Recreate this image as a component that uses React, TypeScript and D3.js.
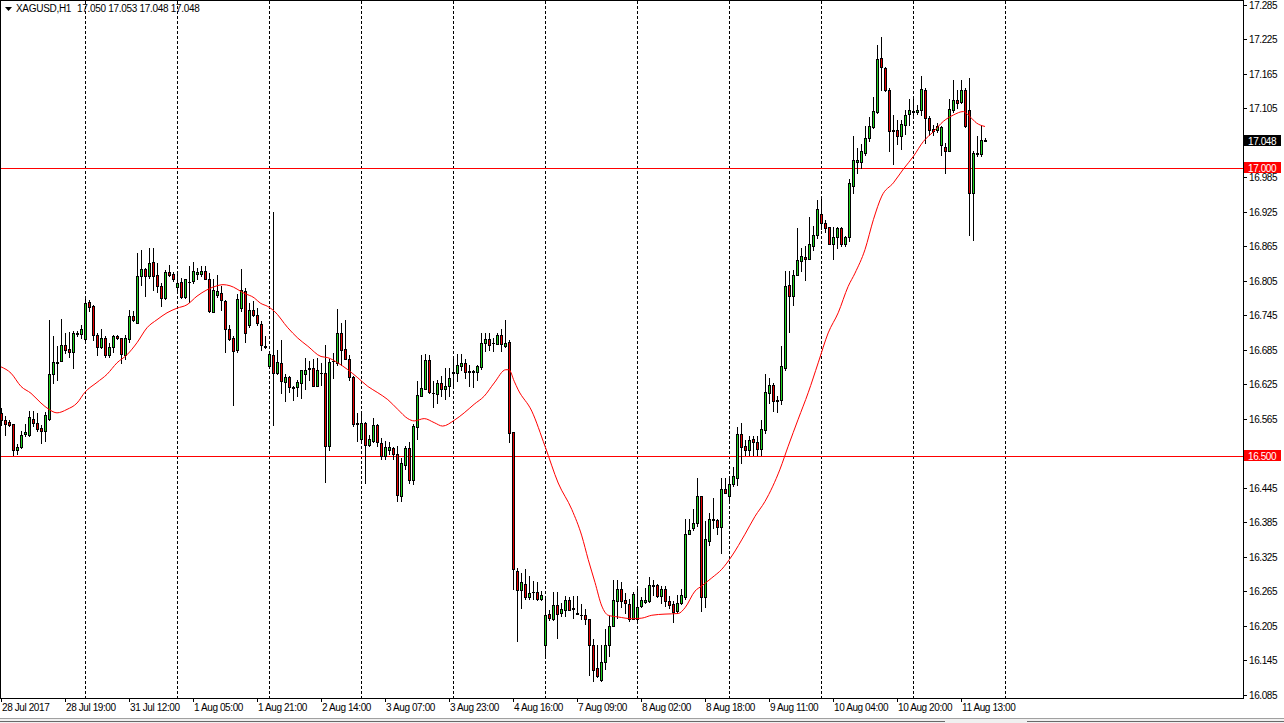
import React from 'react';
import * as d3 from 'd3';

const W = 1284;
const H = 723;
const PLOT_RIGHT = 1243;
const PLOT_BOTTOM = 698;

const opens = [
  16.574, 16.563, 16.559, 16.555, 16.510, 16.516, 16.538, 16.536, 16.564, 16.557,
  16.548, 16.544, 16.564, 16.643, 16.662, 16.665, 16.693, 16.686, 16.681, 16.713,
  16.712, 16.703, 16.768, 16.761, 16.710, 16.690, 16.705, 16.675, 16.690, 16.709,
  16.705, 16.676, 16.703, 16.744, 16.732, 16.813, 16.825, 16.813, 16.837, 16.814,
  16.796, 16.775, 16.820, 16.816, 16.794, 16.802, 16.776, 16.803, 16.804, 16.816,
  16.817, 16.822, 16.808, 16.750, 16.780, 16.783, 16.769, 16.721, 16.706, 16.684,
  16.757, 16.787, 16.727, 16.754, 16.746, 16.730, 16.692, 16.656, 16.676, 16.645,
  16.662, 16.628, 16.638, 16.620, 16.620, 16.627, 16.643, 16.652, 16.653, 16.622,
  16.645, 16.645, 16.517, 16.665, 16.661, 16.714, 16.686, 16.669, 16.638, 16.558,
  16.529, 16.558, 16.519, 16.526, 16.554, 16.523, 16.500, 16.510, 16.514, 16.503,
  16.430, 16.484, 16.514, 16.459, 16.550, 16.605, 16.617, 16.667, 16.610, 16.608,
  16.627, 16.617, 16.621, 16.645, 16.645, 16.656, 16.662, 16.647, 16.646, 16.646,
  16.654, 16.696, 16.704, 16.696, 16.695, 16.711, 16.691, 16.698, 16.542, 16.300,
  16.267, 16.278, 16.254, 16.264, 16.264, 16.252, 16.172, 16.226, 16.216, 16.241,
  16.227, 16.233, 16.249, 16.235, 16.227, 16.224, 16.224, 16.216, 16.171, 16.131,
  16.111, 16.141, 16.172, 16.205, 16.248, 16.269, 16.249, 16.242, 16.217, 16.217,
  16.239, 16.246, 16.248, 16.276, 16.275, 16.256, 16.268, 16.247, 16.242, 16.230,
  16.245, 16.255, 16.365, 16.375, 16.383, 16.431, 16.255, 16.352, 16.389, 16.388,
  16.377, 16.443, 16.430, 16.452, 16.462, 16.538, 16.518, 16.510, 16.529, 16.525,
  16.512, 16.545, 16.610, 16.623, 16.596, 16.598, 16.653, 16.798, 16.778, 16.815,
  16.839, 16.846, 16.843, 16.866, 16.884, 16.921, 16.905, 16.898, 16.869, 16.880,
  16.896, 16.869, 16.881, 16.970, 17.012, 17.012, 17.027, 17.053, 17.072, 17.099,
  17.192, 17.174, 17.137, 17.067, 17.067, 17.056, 17.076, 17.095, 17.098, 17.099,
  17.102, 17.137, 17.088, 17.068, 17.067, 17.040, 17.038, 17.031, 17.102, 17.119,
  17.115, 17.137, 17.101, 16.958, 17.026, 17.026, 17.050,
];

const highs = [
  16.584, 16.569, 16.563, 16.556, 16.520, 16.543, 16.556, 16.578, 16.578, 16.575,
  16.553, 16.576, 16.737, 16.708, 16.692, 16.739, 16.714, 16.716, 16.717, 16.717,
  16.728, 16.773, 16.771, 16.762, 16.714, 16.721, 16.708, 16.697, 16.710, 16.711,
  16.706, 16.711, 16.754, 16.752, 16.853, 16.859, 16.827, 16.862, 16.862, 16.835,
  16.801, 16.824, 16.833, 16.820, 16.821, 16.809, 16.808, 16.830, 16.837, 16.827,
  16.830, 16.831, 16.818, 16.807, 16.815, 16.795, 16.772, 16.728, 16.708, 16.782,
  16.826, 16.792, 16.766, 16.769, 16.757, 16.734, 16.709, 16.682, 16.925, 16.684,
  16.701, 16.642, 16.639, 16.621, 16.633, 16.650, 16.671, 16.665, 16.669, 16.671,
  16.662, 16.693, 16.669, 16.679, 16.755, 16.731, 16.736, 16.675, 16.639, 16.575,
  16.575, 16.559, 16.537, 16.566, 16.555, 16.532, 16.526, 16.524, 16.516, 16.517,
  16.497, 16.517, 16.524, 16.555, 16.630, 16.676, 16.677, 16.676, 16.630, 16.633,
  16.639, 16.653, 16.653, 16.673, 16.678, 16.678, 16.668, 16.659, 16.650, 16.659,
  16.714, 16.714, 16.714, 16.705, 16.714, 16.721, 16.736, 16.702, 16.542, 16.306,
  16.297, 16.303, 16.292, 16.282, 16.280, 16.265, 16.251, 16.233, 16.263, 16.263,
  16.244, 16.256, 16.254, 16.256, 16.256, 16.242, 16.234, 16.216, 16.181, 16.171,
  16.172, 16.199, 16.222, 16.285, 16.285, 16.280, 16.262, 16.251, 16.263, 16.268,
  16.254, 16.271, 16.290, 16.285, 16.277, 16.274, 16.274, 16.256, 16.248, 16.258,
  16.268, 16.390, 16.391, 16.408, 16.462, 16.431, 16.387, 16.401, 16.427, 16.391,
  16.462, 16.462, 16.460, 16.481, 16.551, 16.558, 16.527, 16.535, 16.534, 16.534,
  16.562, 16.643, 16.636, 16.627, 16.604, 16.691, 16.821, 16.821, 16.824, 16.896,
  16.862, 16.865, 16.916, 16.900, 16.946, 16.949, 16.911, 16.899, 16.899, 16.899,
  16.898, 16.883, 16.982, 17.057, 17.035, 17.043, 17.074, 17.090, 17.124, 17.215,
  17.228, 17.177, 17.140, 17.093, 17.085, 17.085, 17.101, 17.121, 17.122, 17.111,
  17.161, 17.140, 17.091, 17.076, 17.079, 17.073, 17.044, 17.121, 17.154, 17.137,
  17.154, 17.140, 17.157, 17.030, 17.056, 17.076, 17.053,
];

const lows = [
  16.554, 16.537, 16.552, 16.501, 16.503, 16.514, 16.534, 16.534, 16.552, 16.543,
  16.522, 16.526, 16.563, 16.627, 16.633, 16.665, 16.679, 16.673, 16.653, 16.709,
  16.705, 16.702, 16.752, 16.702, 16.675, 16.688, 16.673, 16.673, 16.681, 16.703,
  16.661, 16.668, 16.699, 16.734, 16.731, 16.798, 16.778, 16.809, 16.789, 16.786,
  16.760, 16.773, 16.813, 16.804, 16.789, 16.775, 16.775, 16.767, 16.801, 16.808,
  16.813, 16.807, 16.750, 16.750, 16.776, 16.754, 16.680, 16.702, 16.588, 16.680,
  16.752, 16.699, 16.725, 16.743, 16.728, 16.684, 16.688, 16.655, 16.554, 16.643,
  16.610, 16.595, 16.611, 16.598, 16.604, 16.600, 16.616, 16.633, 16.621, 16.621,
  16.624, 16.455, 16.510, 16.635, 16.659, 16.659, 16.668, 16.633, 16.552, 16.526,
  16.528, 16.453, 16.517, 16.524, 16.517, 16.495, 16.495, 16.503, 16.495, 16.422,
  16.422, 16.477, 16.453, 16.452, 16.529, 16.604, 16.616, 16.610, 16.585, 16.592,
  16.604, 16.599, 16.604, 16.624, 16.630, 16.650, 16.636, 16.621, 16.620, 16.633,
  16.652, 16.682, 16.685, 16.682, 16.694, 16.682, 16.690, 16.524, 16.268, 16.178,
  16.236, 16.251, 16.251, 16.251, 16.249, 16.249, 16.152, 16.215, 16.214, 16.184,
  16.222, 16.222, 16.232, 16.219, 16.225, 16.216, 16.207, 16.119, 16.109, 16.116,
  16.109, 16.129, 16.152, 16.204, 16.219, 16.238, 16.227, 16.213, 16.216, 16.213,
  16.238, 16.244, 16.246, 16.258, 16.254, 16.244, 16.239, 16.236, 16.211, 16.227,
  16.242, 16.252, 16.364, 16.372, 16.379, 16.230, 16.238, 16.346, 16.375, 16.364,
  16.332, 16.435, 16.423, 16.448, 16.449, 16.488, 16.501, 16.501, 16.501, 16.501,
  16.501, 16.540, 16.593, 16.578, 16.576, 16.590, 16.650, 16.715, 16.762, 16.814,
  16.821, 16.806, 16.843, 16.858, 16.879, 16.895, 16.889, 16.868, 16.843, 16.862,
  16.865, 16.865, 16.873, 16.958, 16.993, 17.001, 17.024, 17.047, 17.070, 17.096,
  17.136, 17.134, 17.030, 17.007, 17.043, 17.033, 17.060, 17.076, 17.093, 17.095,
  17.093, 17.045, 17.059, 17.059, 17.064, 17.024, 16.993, 17.030, 17.099, 17.105,
  17.114, 17.072, 16.885, 16.875, 17.021, 17.022, 17.048,
];

const closes = [
  16.563, 16.556, 16.554, 16.510, 16.515, 16.537, 16.541, 16.568, 16.557, 16.547,
  16.544, 16.571, 16.643, 16.663, 16.664, 16.693, 16.685, 16.680, 16.714, 16.712,
  16.721, 16.766, 16.759, 16.711, 16.690, 16.705, 16.675, 16.690, 16.708, 16.705,
  16.677, 16.705, 16.743, 16.736, 16.813, 16.825, 16.813, 16.835, 16.813, 16.796,
  16.775, 16.820, 16.814, 16.807, 16.801, 16.776, 16.807, 16.802, 16.822, 16.820,
  16.822, 16.808, 16.752, 16.789, 16.787, 16.772, 16.720, 16.703, 16.682, 16.773,
  16.789, 16.714, 16.754, 16.746, 16.732, 16.693, 16.690, 16.678, 16.645, 16.664,
  16.630, 16.638, 16.620, 16.619, 16.628, 16.649, 16.650, 16.653, 16.621, 16.650,
  16.644, 16.517, 16.664, 16.666, 16.714, 16.685, 16.669, 16.638, 16.556, 16.556,
  16.558, 16.519, 16.529, 16.554, 16.525, 16.500, 16.516, 16.515, 16.503, 16.432,
  16.488, 16.514, 16.459, 16.552, 16.606, 16.618, 16.667, 16.611, 16.609, 16.627,
  16.617, 16.621, 16.636, 16.646, 16.659, 16.661, 16.646, 16.646, 16.647, 16.656,
  16.697, 16.704, 16.693, 16.697, 16.711, 16.695, 16.697, 16.540, 16.303, 16.267,
  16.280, 16.255, 16.262, 16.263, 16.251, 16.259, 16.224, 16.219, 16.241, 16.226,
  16.234, 16.249, 16.233, 16.234, 16.225, 16.223, 16.216, 16.171, 16.128, 16.117,
  16.141, 16.171, 16.205, 16.249, 16.269, 16.248, 16.245, 16.217, 16.260, 16.238,
  16.249, 16.249, 16.276, 16.274, 16.256, 16.269, 16.248, 16.240, 16.229, 16.245,
  16.258, 16.365, 16.372, 16.383, 16.431, 16.255, 16.355, 16.391, 16.390, 16.377,
  16.443, 16.435, 16.452, 16.465, 16.538, 16.516, 16.510, 16.527, 16.524, 16.512,
  16.547, 16.612, 16.623, 16.595, 16.598, 16.656, 16.796, 16.779, 16.815, 16.841,
  16.847, 16.843, 16.868, 16.885, 16.929, 16.905, 16.897, 16.869, 16.881, 16.896,
  16.869, 16.881, 16.974, 17.015, 17.014, 17.030, 17.053, 17.073, 17.100, 17.190,
  17.177, 17.136, 17.066, 17.066, 17.056, 17.077, 17.093, 17.101, 17.100, 17.102,
  17.138, 17.088, 17.067, 17.066, 17.074, 17.072, 17.031, 17.103, 17.119, 17.114,
  17.136, 17.073, 16.958, 17.027, 17.027, 17.050, 17.048,
];

// Moving average at bar positions
const maBars = [
  0, 2.5, 5, 7.5, 10, 12, 14, 16.5, 19, 21, 24, 26.5, 29, 31.5, 34, 36.5, 39, 41.5, 44, 46.5,
  49, 51.5, 54, 55.5, 57.25, 60.8, 63.3, 64.8, 66.7, 68.3, 71.7, 74.2, 76.7, 80, 81.7, 84.2,
  86.7, 89.2, 91.7, 94.2, 96.7, 99.2, 101.7, 103.3, 105.8, 108.3, 110.4, 113.3, 115.8, 118.3,
  120.8, 123.3, 126.2, 127, 128.3, 129.3, 132.7, 136, 139.3, 142.7, 145.2, 146.8, 148.5, 150.2,
  151.8, 154.3, 157.7, 160.2, 162.7, 166, 169.3, 171, 173.5, 175.2, 177.7, 180.2, 182.7, 186,
  188.5, 191, 194.75, 196.8, 199.3, 201.8, 204.3, 206.8, 209.3, 211.8, 213.5, 216, 218.1, 220.2,
  223.1, 225.6, 228.1, 230.6, 233.1, 235.6, 238.1, 240.6, 242.25, 243.9, 246,
];
const maValues = [
  16.655, 16.644, 16.621, 16.609, 16.592, 16.581, 16.575, 16.581, 16.592, 16.611, 16.628, 16.642,
  16.662, 16.676, 16.697, 16.723, 16.737, 16.749, 16.757, 16.763,
  16.778, 16.789, 16.796, 16.798, 16.796, 16.783, 16.775, 16.766, 16.760, 16.752, 16.723, 16.705,
  16.691, 16.673, 16.671, 16.662,
  16.650, 16.636, 16.621, 16.610, 16.598, 16.581, 16.565, 16.561, 16.565, 16.558, 16.552, 16.562,
  16.575, 16.590,
  16.604, 16.627, 16.650, 16.650, 16.630, 16.615, 16.578, 16.517, 16.453, 16.407, 16.361, 16.320,
  16.280, 16.239,
  16.223, 16.220, 16.217, 16.218, 16.223, 16.225, 16.226, 16.236, 16.265, 16.274, 16.288, 16.303,
  16.326, 16.364,
  16.395, 16.421, 16.477, 16.517, 16.564, 16.610, 16.662, 16.714, 16.749, 16.795, 16.818, 16.859,
  16.911, 16.952,
  16.975, 16.999, 17.021, 17.047, 17.064, 17.082, 17.093, 17.099, 17.090, 17.079, 17.073,
];

const priceTickLabels = [
  '17.285', '17.225', '17.165', '17.105', '17.045', '16.985', '16.925', '16.865', '16.805', '16.745',
  '16.685', '16.625', '16.565', '16.505', '16.445', '16.385', '16.325', '16.265', '16.205', '16.145', '16.085',
];
const hiddenTickLabels = ['17.045', '16.505'];

const timeLabels = [
  '28 Jul 2017', '28 Jul 19:00', '31 Jul 12:00', '1 Aug 05:00', '1 Aug 21:00', '2 Aug 14:00',
  '3 Aug 07:00', '3 Aug 23:00', '4 Aug 16:00', '7 Aug 09:00', '8 Aug 02:00', '8 Aug 18:00',
  '9 Aug 11:00', '10 Aug 04:00', '10 Aug 20:00', '11 Aug 13:00',
];
const timeLabelBars = [0, 16, 32, 48, 64, 80, 96, 112, 128, 144, 160, 176, 192, 208, 224, 240];
const gridBars = [21, 44, 67, 90, 113, 136, 159, 182, 205, 228, 251];
const levelLines = [17.0, 16.5];
const levelLabels = ['17.000', '16.500'];
const lastPrice = 17.048;
const lastLabel = '17.048';
const symbolLabel = 'XAGUSD,H1';
const ohlcLabel = '17.050 17.053 17.048 17.048';

const FONT = "'Liberation Sans', Arial, sans-serif";
const BULL = '#1fd31f';
const BEAR = '#e60000';

export default function App() {
  const x = d3.scaleLinear().domain([0, 246]).range([1, 985]);
  const y = d3.scaleLinear().domain([16.085, 17.285]).range([694.6, 4.6]);

  const maLine = d3
    .line<number>()
    .x((_, i) => x(maBars[i]))
    .y((v) => y(v))
    .curve(d3.curveMonotoneX);

  const candles = opens.map((o, i) => {
    const h = highs[i];
    const l = lows[i];
    const c = closes[i];
    const cx = Math.round(x(i));
    const yh = Math.round(y(h));
    const yl = Math.round(y(l));
    const top = Math.round(y(Math.max(o, c)));
    const bot = Math.round(y(Math.min(o, c)));
    const color = c > o ? BULL : BEAR;
    return (
      <g key={i}>
        <rect x={cx} y={yh} width={1} height={yl - yh + 1} fill="#000" />
        {bot - top < 2 ? (
          <rect x={cx - 1} y={top} width={3} height={Math.max(1, bot - top + 1)} fill="#000" />
        ) : (
          <>
            <rect x={cx - 1} y={top} width={3} height={bot - top + 1} fill="#000" />
            <rect x={cx} y={top + 1} width={1} height={bot - top - 1} fill={color} />
          </>
        )}
      </g>
    );
  });

  return (
    <svg
      width={W}
      height={H}
      style={{ position: 'absolute', left: 0, top: 0, background: '#fff' }}
      fontFamily={FONT}
    >
      <rect x={0} y={0} width={W} height={H} fill="#fff" />

      {/* vertical dashed grid */}
      {gridBars.map((b) => (
        <line
          key={b}
          x1={Math.round(x(b)) + 0.5}
          x2={Math.round(x(b)) + 0.5}
          y1={1}
          y2={PLOT_BOTTOM}
          stroke="#000"
          strokeWidth={1}
          strokeDasharray="3,2"
        />
      ))}

      {/* level lines */}
      {levelLines.map((v) => (
        <rect key={v} x={0} y={Math.round(y(v))} width={PLOT_RIGHT} height={1} fill="#ff0000" />
      ))}

      {/* candles */}
      <g shapeRendering="crispEdges">{candles}</g>

      {/* moving average */}
      <path d={maLine(maValues) || ''} fill="none" stroke="#ff0000" strokeWidth={1} />

      {/* frame */}
      <g shapeRendering="crispEdges">
        <rect x={0} y={0} width={PLOT_RIGHT + 1} height={1} fill="#000" />
        <rect x={0} y={0} width={1} height={PLOT_BOTTOM + 1} fill="#000" />
        <rect x={PLOT_RIGHT} y={0} width={1} height={PLOT_BOTTOM + 1} fill="#000" />
        <rect x={0} y={PLOT_BOTTOM} width={PLOT_RIGHT + 1} height={1} fill="#000" />
      </g>

      {/* title */}
      <path d="M5,7 L12,7 L8.5,11 Z" fill="#000" />
      <text x={16} y={12} fontSize={10} letterSpacing={-0.3} fill="#000">
        {symbolLabel}
      </text>
      <text x={77} y={12} fontSize={10} letterSpacing={-0.3} fill="#000">
        {ohlcLabel}
      </text>

      {/* right axis */}
      {priceTickLabels.map((t) => {
        const ty = Math.round(y(+t));
        return (
          <g key={t}>
            <rect x={PLOT_RIGHT} y={ty} width={4} height={1} fill="#000" />
            {!hiddenTickLabels.includes(t) && (
              <text x={1249} y={ty + 4} fontSize={10} letterSpacing={-0.4} fill="#000">
                {t}
              </text>
            )}
          </g>
        );
      })}

      {/* level labels */}
      {levelLines.map((v, i) => {
        const ty = Math.round(y(v));
        return (
          <g key={'lv' + v}>
            <rect x={1244} y={ty - 6} width={37} height={11} fill="#ff0000" />
            <text x={1248} y={ty + 4} fontSize={10} letterSpacing={-0.4} fill="#fff">
              {levelLabels[i]}
            </text>
          </g>
        );
      })}
      {(() => {
        const ty = Math.round(y(lastPrice));
        return (
          <g>
            <rect x={1244} y={ty - 6} width={37} height={11} fill="#000" />
            <text x={1248} y={ty + 4} fontSize={10} letterSpacing={-0.4} fill="#fff">
              {lastLabel}
            </text>
          </g>
        );
      })()}

      {/* bottom axis */}
      {timeLabels.map((t, i) => {
        const tx = Math.round(x(timeLabelBars[i]));
        return (
          <g key={t}>
            <rect x={tx} y={PLOT_BOTTOM} width={1} height={4} fill="#000" />
            <text x={tx + 1} y={711} fontSize={10} letterSpacing={-0.4} fill="#000">
              {t}
            </text>
          </g>
        );
      })}

      {/* bottom tab strip */}
      <rect x={0} y={718} width={W} height={5} fill="#f0f0f0" />
      <rect x={0} y={718} width={W} height={1} fill="#a0a0a0" />
      <rect x={0} y={721} width={945} height={1} fill="#696969" />
      <rect x={1027} y={721} width={W - 1027} height={1} fill="#696969" />
    </svg>
  );
}
